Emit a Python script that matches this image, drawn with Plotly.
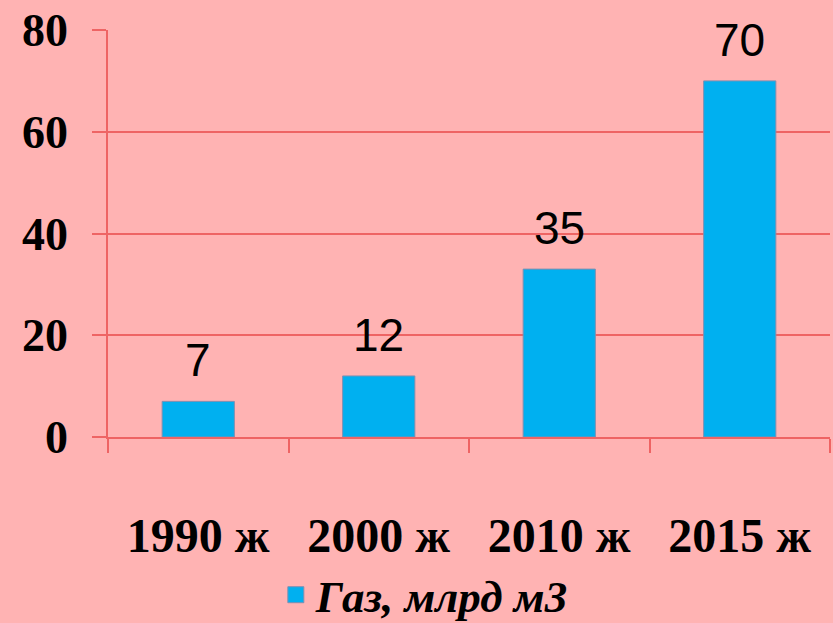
import plotly.graph_objects as go

years = ["1990 ж", "2000 ж", "2010 ж", "2015 ж"]
gas = [7, 12, 33, 70]
value_labels = ["7", "12", "35", "70"]
series_name = "Газ, млрд м3"
y_ticks = [0, 20, 40, 60, 80]

BG = "#FFB3B3"
BAR = "#00B0F0"
GRID = "#EE6464"

fig = go.Figure()
fig.add_trace(go.Bar(
    x=years, y=gas, marker=dict(color=BAR, line=dict(color="#7F8FB0", width=1)),
    showlegend=False, hoverinfo="x+y",
))
fig.add_trace(go.Scatter(
    x=[None], y=[None], mode="markers", name=series_name,
    marker=dict(symbol="square", size=16, color=BAR, line=dict(color="#7F8FB0", width=1)),
))

for cat, v, lab in zip(years, gas, value_labels):
    fig.add_annotation(x=cat, y=v, text=lab, showarrow=False, yanchor="bottom",
                       yshift=13, font=dict(family="Liberation Sans, Arial", size=46, color="black"))

fig.update_layout(
    width=833, height=623,
    paper_bgcolor=BG, plot_bgcolor=BG,
    margin=dict(l=108, r=3, t=30, b=186),
    bargap=0.6,
    showlegend=True,
    legend=dict(orientation="h", xref="container", yref="container", x=0.51, y=0.045,
                xanchor="center", yanchor="middle", bgcolor="rgba(0,0,0,0)",
                font=dict(family="Liberation Serif, Times New Roman", size=45, color="black",
                          weight="bold", style="italic")),
    xaxis=dict(type="category", showgrid=False, showline=True, linecolor=GRID, linewidth=1.5,
               ticks="outside", tickson="boundaries", ticklen=14, tickcolor=GRID, tickwidth=1.5,
               ticklabelstandoff=56, automargin=False,
               tickfont=dict(family="Liberation Serif, Times New Roman", size=48, color="black", weight="bold")),
    yaxis=dict(range=[0, 80], tickvals=y_ticks, showgrid=True, gridcolor=GRID, gridwidth=1.5,
               showline=True, linecolor=GRID, linewidth=1.5, zeroline=False,
               ticks="outside", ticklen=14, tickcolor=GRID, tickwidth=1.5,
               ticklabelstandoff=15, automargin=False,
               tickfont=dict(family="Liberation Serif, Times New Roman", size=46, color="black", weight="bold")),
)

fig.write_html("out.html", config={"displayModeBar": False},
               post_script="document.body.style.margin='0';")
